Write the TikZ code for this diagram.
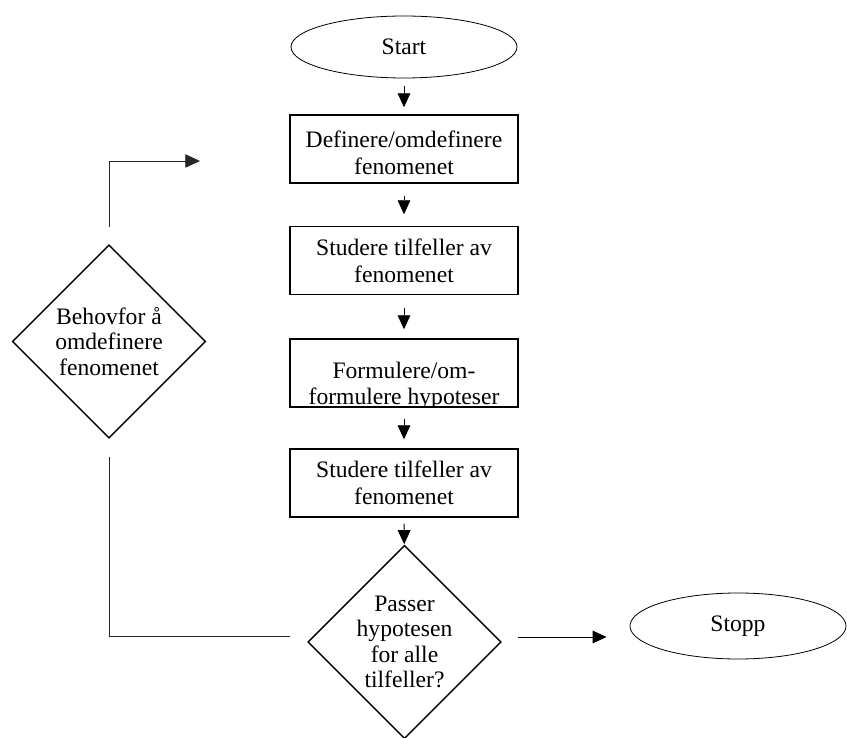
\documentclass[tikz,border=0pt]{standalone}
\usepackage{fontspec}
\setmainfont{Liberation Serif}
\usetikzlibrary{shapes.geometric, arrows.meta}
\begin{document}
\begin{tikzpicture}[x=0.75pt, y=-0.75pt,
  every node/.style={font=\fontsize{17.7pt}{20.5pt}\selectfont, align=center},
  procbox/.style={draw, line width=1.1pt, minimum width=171pt, minimum height=51pt, inner sep=0pt},
  term/.style={draw, ellipse, line width=0.6pt, inner sep=0pt},
  decision/.style={draw, diamond, aspect=1, line width=1.1pt, minimum width=145pt, minimum height=145pt, inner sep=0pt},
  flow/.style={line width=0.6pt, -{Triangle[length=10.5pt,width=9.5pt]}},
  loopline/.style={line width=0.6pt, draw=black!85},
  dtext/.style={align=center, font=\fontsize{17.7pt}{19pt}\selectfont},
]
\useasboundingbox (0,0) rectangle (847,738);

\node[term, minimum width=169.5pt, minimum height=46.5pt] (start) at (404,47) {Start};
\node[procbox] (b1) at (404,149) {};
\node[align=center] (b1text) at ([yshift=-3pt]b1.center) {Definere/omdefinere\\fenomenet};
\node[procbox] (b2) at (404,260.5) {Studere tilfeller av\\fenomenet};
\node[procbox] (b3) at (404,373) {};
\begin{scope}
  \clip (b3.south west) rectangle (b3.north east);
  \node[align=center, font=\fontsize{17.7pt}{19.5pt}\selectfont] (b3text) at ([yshift=-9.5pt]b3.center) {Formulere/om-\\formulere hypoteser};
\end{scope}
\node[procbox] (b4) at (404,483) {Studere tilfeller av\\fenomenet};
\node[decision, label={[dtext]center:Passer\\hypotesen\\for alle\\tilfeller?}] (d2) at (404.5,642) {};
\node[term, minimum width=162pt, minimum height=49.5pt] (stopp) at (738,626) {Stopp};
\node[decision, label={[dtext]center:Behovfor å\\omdefinere\\fenomenet}] (d1) at (109,341.5) {};
\coordinate (loopend) at (200,161);

\draw[flow, shorten <=6pt, shorten >=5.25pt] (start) -- (b1);
\draw[flow, shorten <=9pt, shorten >=8.6pt] (b1) -- (b2);
\draw[flow, shorten <=9.4pt, shorten >=6.75pt] (b2) -- (b3);
\draw[flow, shorten <=8.25pt, shorten >=6.75pt] (b3) -- (b4);
\draw[flow, shorten <=4.5pt, shorten >=0.5pt] (b4) -- (d2);

\draw[flow] ([xshift=12pt,yshift=3.75pt]d2.east) coordinate (ra) -- ([xshift=-17.25pt]stopp.west |- ra);

\draw[loopline] ([xshift=-12.75pt,yshift=4.5pt]d2.west) -| ([yshift=-13.5pt]d1.south);
\draw[loopline, -{Triangle[length=11pt,width=10pt]}] ([yshift=12.75pt]d1.north) |- (loopend);
\end{tikzpicture}
\end{document}
